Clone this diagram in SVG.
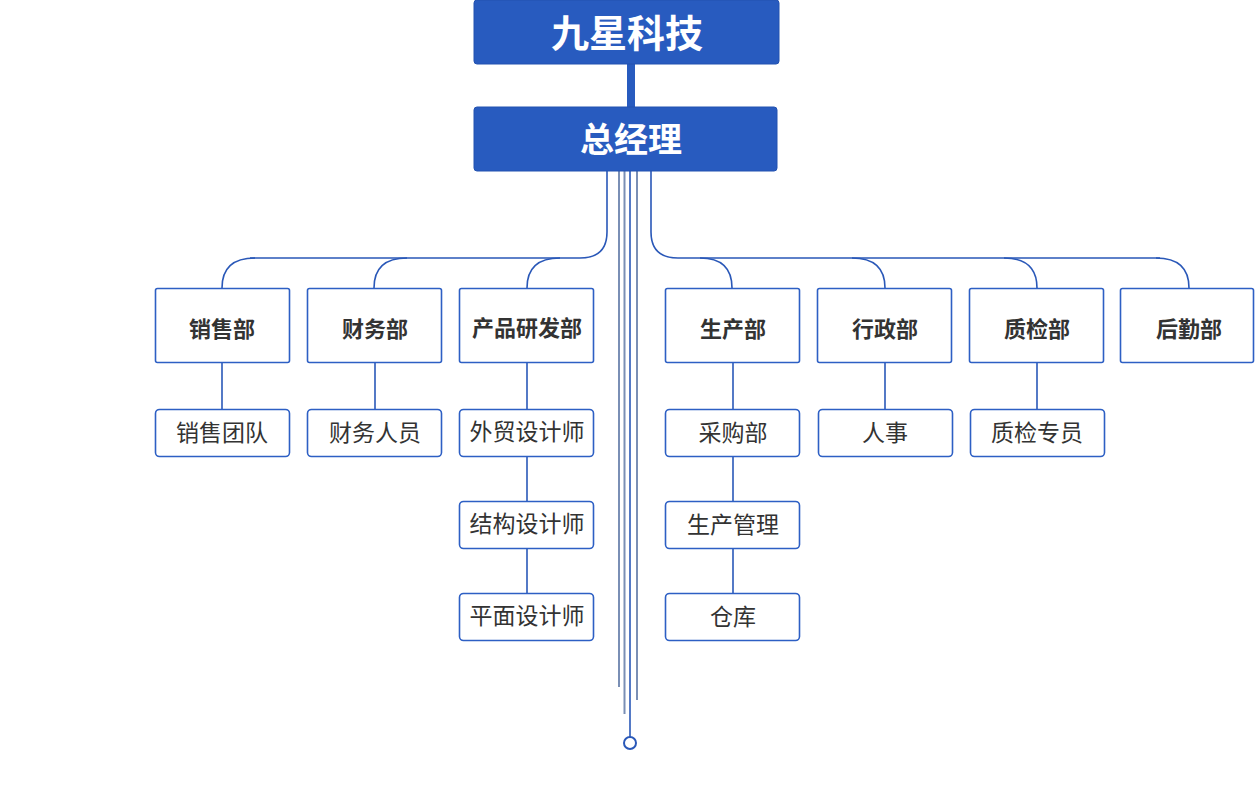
<svg xmlns="http://www.w3.org/2000/svg" width="1255" height="809" viewBox="0 0 1255 809">
<style>
.hd{fill:#285bbf;stroke:#2352b0;stroke-width:1}
.ht{fill:#fff;font-family:"Noto Sans CJK SC",sans-serif;font-weight:700;text-anchor:middle}
.d{fill:#fff;stroke:#2d5fc4;stroke-width:1.6}
.dt{fill:#333;font-family:"Noto Sans CJK SC",sans-serif;font-weight:700;font-size:22px;text-anchor:middle}
.s{fill:#fff;stroke:#2d5fc4;stroke-width:1.6}
.st{fill:#333;font-family:"Noto Sans CJK SC",sans-serif;font-size:23px;text-anchor:middle}
.c{fill:none;stroke:#2a58b8;stroke-width:1.6}
.g{fill:none;stroke:#7a8fb5;stroke-width:2}
</style>
<g id="connectors">
<rect x="627" y="63" width="8" height="45" fill="#285bbf"/>
<line class="g" x1="619" y1="171" x2="619" y2="687"/>
<line class="g" x1="624.5" y1="171" x2="624.5" y2="714"/>
<line class="g" x1="637" y1="171" x2="637" y2="700"/>
<line class="c" x1="630" y1="171" x2="630" y2="737" stroke-width="2"/>
<circle cx="630" cy="743" r="6" fill="#fff" stroke="#2a58b8" stroke-width="2"/>
<path class="c" d="M607 171 V232 Q607 258 580 258 H250"/>
<path class="c" d="M651 171 V232 Q651 258 678 258 H1160"/>
<path class="c" d="M222 288 Q222 258 255 258"/>
<path class="c" d="M374 288 Q374 258 407 258"/>
<path class="c" d="M527 288 Q527 258 560 258"/>
<path class="c" d="M732 288 Q732 258 700 258"/>
<path class="c" d="M885 288 Q885 258 852 258"/>
<path class="c" d="M1037 288 Q1037 258 1004 258"/>
<path class="c" d="M1189 288 Q1189 258 1156 258"/>
<line class="c" x1="222" y1="362" x2="222" y2="409"/>
<line class="c" x1="375" y1="362" x2="375" y2="409"/>
<line class="c" x1="527" y1="362" x2="527" y2="593"/>
<line class="c" x1="733" y1="362" x2="733" y2="593"/>
<line class="c" x1="885" y1="362" x2="885" y2="409"/>
<line class="c" x1="1037" y1="362" x2="1037" y2="409"/>
</g>
<g id="n-top"><rect class="hd" x="474" y="0" width="305" height="64" rx="3"/><text class="ht" x="627" y="47" font-size="38">九星科技</text></g>
<g id="n-gm"><rect class="hd" x="474" y="107" width="303" height="64" rx="3"/><text class="ht" x="631" y="152" font-size="34">总经理</text></g>
<g id="n-xs"><rect class="d" x="155.5" y="288.5" width="134" height="74" rx="2"/><text class="dt" x="222" y="337">销售部</text></g>
<g id="n-cw"><rect class="d" x="307.5" y="288.5" width="134" height="74" rx="2"/><text class="dt" x="375" y="337">财务部</text></g>
<g id="n-cp"><rect class="d" x="459.5" y="288.5" width="134" height="74" rx="2"/><text class="dt" x="527" y="336" font-size="20">产品研发部</text></g>
<g id="n-sc"><rect class="d" x="665.5" y="288.5" width="134" height="74" rx="2"/><text class="dt" x="733" y="337">生产部</text></g>
<g id="n-xz"><rect class="d" x="817.5" y="288.5" width="134" height="74" rx="2"/><text class="dt" x="885" y="337">行政部</text></g>
<g id="n-zj"><rect class="d" x="969.5" y="288.5" width="134" height="74" rx="2"/><text class="dt" x="1037" y="337">质检部</text></g>
<g id="n-hq"><rect class="d" x="1120.5" y="288.5" width="133" height="74" rx="2"/><text class="dt" x="1189" y="337">后勤部</text></g>
<g id="s1"><rect class="s" x="155.5" y="409.5" width="134" height="47" rx="4"/><text class="st" x="222" y="441">销售团队</text></g>
<g id="s2"><rect class="s" x="307.5" y="409.5" width="134" height="47" rx="4"/><text class="st" x="375" y="441">财务人员</text></g>
<g id="s3"><rect class="s" x="459.5" y="409.5" width="134" height="47" rx="4"/><text class="st" x="527" y="440" font-size="21">外贸设计师</text></g>
<g id="s4"><rect class="s" x="459.5" y="501.5" width="134" height="47" rx="4"/><text class="st" x="527" y="532" font-size="21">结构设计师</text></g>
<g id="s5"><rect class="s" x="459.5" y="593.5" width="134" height="47" rx="4"/><text class="st" x="527" y="624" font-size="21">平面设计师</text></g>
<g id="s6"><rect class="s" x="665.5" y="409.5" width="134" height="47" rx="4"/><text class="st" x="733" y="441">采购部</text></g>
<g id="s7"><rect class="s" x="665.5" y="501.5" width="134" height="47" rx="4"/><text class="st" x="733" y="533">生产管理</text></g>
<g id="s8"><rect class="s" x="665.5" y="593.5" width="134" height="47" rx="4"/><text class="st" x="733" y="625">仓库</text></g>
<g id="s9"><rect class="s" x="818.5" y="409.5" width="134" height="47" rx="4"/><text class="st" x="885" y="441">人事</text></g>
<g id="s10"><rect class="s" x="970.5" y="409.5" width="134" height="47" rx="4"/><text class="st" x="1037" y="441">质检专员</text></g>
</svg>
